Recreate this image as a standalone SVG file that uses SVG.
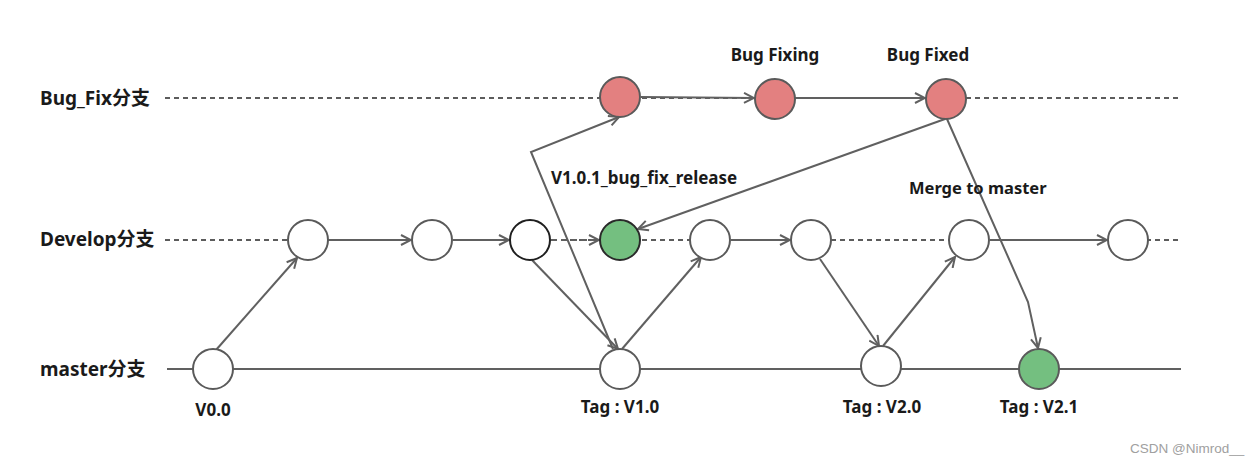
<svg xmlns="http://www.w3.org/2000/svg" width="1255" height="465" viewBox="0 0 1255 465">
<style>
.lbl{font-family:"Noto Sans","Liberation Sans","Noto Sans CJK SC",sans-serif;font-weight:bold;font-size:17px;fill:#1a1a1a}
.br{font-family:"Noto Sans","Noto Sans CJK SC",sans-serif;font-weight:bold;font-size:19px;fill:#1a1a1a}
.ln{stroke:#606060;stroke-width:2;fill:none}
.dash{stroke:#5c5c5c;stroke-width:2.2;fill:none;stroke-dasharray:5 4}
.arr{stroke:#606060;stroke-width:2;fill:none;marker-end:url(#ah)}
.darr{stroke:#606060;stroke-width:2;fill:none;stroke-dasharray:6 4;marker-end:url(#ah)}
.n{fill:#fff;stroke:#5a5a5a;stroke-width:2}
.red{fill:#e38080;stroke:#5a5a5a;stroke-width:2}
.grn{fill:#74bf80;stroke:#5a5a5a;stroke-width:2}
</style>
<defs>
<marker id="ah" viewBox="0 0 12 12" refX="11" refY="6" markerWidth="12" markerHeight="12" markerUnits="userSpaceOnUse" orient="auto">
<path d="M1,1 L11,6 L1,11" fill="none" stroke="#606060" stroke-width="2"/>
</marker>
</defs>
<rect width="1255" height="465" fill="#fff"/>
<g id="branch-labels">
<text class="br" x="40" y="105">Bug_Fix分支</text>
<text class="br" x="40" y="246">Develop分支</text>
<text class="br" x="40" y="376">master分支</text>
</g>
<g id="connectors">
<line class="dash" x1="165" y1="98" x2="1182" y2="98"/>
<line class="dash" x1="165" y1="240" x2="1182" y2="240"/>
<line class="ln" x1="167" y1="369" x2="1181" y2="369"/>
<line class="arr" x1="641" y1="97" x2="754" y2="98"/>
<line class="arr" x1="796" y1="98" x2="925" y2="98"/>
<line class="arr" x1="329" y1="240" x2="411" y2="240"/>
<line class="arr" x1="453" y1="240" x2="509" y2="240"/>
<line class="darr" x1="551" y1="240" x2="599" y2="240"/>
<line class="arr" x1="731" y1="240" x2="790" y2="240"/>
<line class="arr" x1="990" y1="240" x2="1107" y2="240"/>
<line class="arr" x1="216" y1="350" x2="297" y2="258"/>
<line class="arr" x1="532" y1="260" x2="618" y2="349"/>
<line class="arr" x1="622" y1="349" x2="701" y2="257"/>
<polyline class="arr" points="613,349 531,152 619,117"/>
<line class="arr" x1="945" y1="119" x2="638" y2="229"/>
<polyline class="arr" points="947,119 1028,302 1038,348"/>
<line class="arr" x1="820" y1="259" x2="879" y2="346"/>
<line class="arr" x1="883" y1="346" x2="955" y2="257"/>
</g>
<g id="bf1"><circle class="red" cx="620" cy="97" r="20"/></g>
<g id="bf2"><circle class="red" cx="775" cy="99" r="20"/><text class="lbl" x="775" y="61" text-anchor="middle">Bug Fixing</text></g>
<g id="bf3"><circle class="red" cx="946" cy="99" r="20"/><text class="lbl" x="928" y="61" text-anchor="middle">Bug Fixed</text></g>
<g id="d1"><circle class="n" cx="308" cy="240" r="20"/></g>
<g id="d2"><circle class="n" cx="432" cy="240" r="20"/></g>
<g id="d3"><circle class="n" cx="530" cy="240" r="20" style="stroke:#1f1f1f"/></g>
<g id="d4"><circle class="grn" cx="620" cy="240" r="20" style="stroke:#2a2a2a"/><text class="lbl" x="551" y="184">V1.0.1_bug_fix_release</text></g>
<g id="d5"><circle class="n" cx="710" cy="240" r="20"/></g>
<g id="d6"><circle class="n" cx="811" cy="240" r="20"/></g>
<g id="d7"><circle class="n" cx="969" cy="240" r="20"/><text class="lbl" x="909" y="194" style="font-size:16.5px">Merge to master</text></g>
<g id="d8"><circle class="n" cx="1128" cy="240" r="20"/></g>
<g id="m1"><circle class="n" cx="213" cy="369" r="20"/><text class="lbl" x="213" y="416" text-anchor="middle">V0.0</text></g>
<g id="m2"><circle class="n" cx="620" cy="369" r="20"/><text class="lbl" x="620" y="413" text-anchor="middle">Tag : V1.0</text></g>
<g id="m3"><circle class="n" cx="881" cy="366" r="20"/><text class="lbl" x="882" y="413" text-anchor="middle">Tag : V2.0</text></g>
<g id="m4"><circle class="grn" cx="1039" cy="369" r="20"/><text class="lbl" x="1039" y="413" text-anchor="middle">Tag : V2.1</text></g>
<text x="1130" y="453" style="font-family:'Liberation Sans',Arial,sans-serif;font-size:13.5px;fill:#a0a0a0">CSDN @Nimrod__</text>
</svg>
